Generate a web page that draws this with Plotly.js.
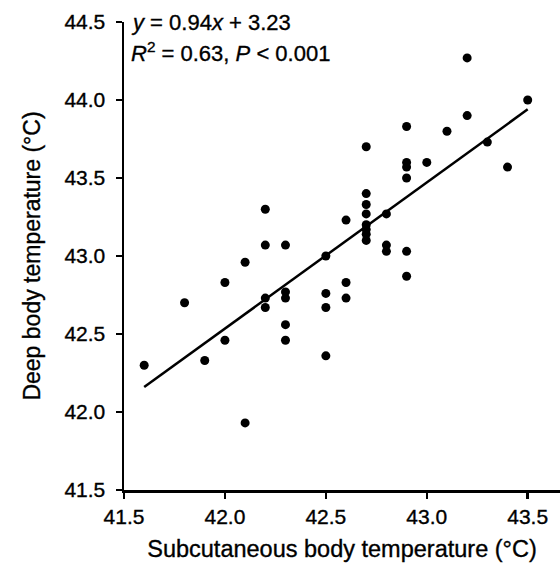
<!DOCTYPE html>
<html>
<head>
<meta charset="utf-8">
<script src="https://cdn.plot.ly/plotly-3.0.1.min.js"></script>
<style>
html,body{margin:0;padding:0;background:#fff;}
#chart{width:560px;height:570px;}
#chart svg text{stroke:#000;stroke-width:0.35px;}
</style>
</head>
<body>
<div id="chart"></div>
<script>
// Subcutaneous body temperature (°C)
const subcutaneous = [
  41.6, 41.8, 41.9, 42.0, 42.0, 42.1, 42.1,
  42.2, 42.2, 42.2, 42.2,
  42.3, 42.3, 42.3, 42.3, 42.3,
  42.5, 42.5, 42.5, 42.5,
  42.6, 42.6, 42.6,
  42.7, 42.7, 42.7, 42.7, 42.7, 42.7, 42.7, 42.7,
  42.8, 42.8, 42.8,
  42.9, 42.9, 42.9, 42.9, 42.9, 42.9,
  43.0, 43.1, 43.2, 43.2, 43.3, 43.4, 43.5
];
// Deep body temperature (°C)
const deep = [
  42.30, 42.70, 42.33, 42.83, 42.46, 42.96, 41.93,
  43.30, 43.07, 42.73, 42.67,
  43.07, 42.77, 42.73, 42.56, 42.46,
  43.00, 42.76, 42.67, 42.36,
  43.23, 42.83, 42.73,
  43.70, 43.40, 43.33, 43.27, 43.20, 43.17, 43.14, 43.10,
  43.27, 43.07, 43.03,
  43.83, 43.60, 43.57, 43.50, 43.03, 42.87,
  43.60, 43.80, 44.27, 43.90, 43.73, 43.57, 44.00
];
// Fitted regression line end points
const fitX = [41.6, 43.5];
const fitY = [42.16, 43.94];
const xTicks = [41.5, 42.0, 42.5, 43.0, 43.5];
const yTicks = [41.5, 42.0, 42.5, 43.0, 43.5, 44.0, 44.5];

const font = "Arial, 'Liberation Sans', sans-serif";
const data = [
  {x: subcutaneous, y: deep, type: 'scatter', mode: 'markers',
   marker: {color: '#000', size: 9}, hoverinfo: 'skip'},
  {x: fitX, y: fitY, type: 'scatter', mode: 'lines',
   line: {color: '#000', width: 2.5}, hoverinfo: 'skip'}
];
const axisCommon = {
  showline: true, linecolor: '#000', linewidth: 2.5,
  ticks: 'outside', ticklen: 6, tickwidth: 2.5, tickcolor: '#000',
  showgrid: false, zeroline: false,
  tickfont: {family: font, size: 21, color: '#000'},
  tickformat: '.1f', tickmode: 'array'
};
const layout = {
  width: 560, height: 570,
  margin: {l: 124, r: 0, t: 22, b: 80},
  paper_bgcolor: '#fff', plot_bgcolor: '#fff',
  showlegend: false,
  xaxis: Object.assign({}, axisCommon, {
    range: [41.5, 43.66], tickvals: xTicks,
    title: {text: 'Subcutaneous body temperature (°C)', font: {family: font, size: 23.5, color: '#000'}, standoff: 14}
  }),
  yaxis: Object.assign({}, axisCommon, {
    range: [41.5, 44.5], tickvals: yTicks, ticklabelstandoff: 6,
    title: {text: 'Deep body temperature (°C)', font: {family: font, size: 23, color: '#000'}, standoff: 18}
  }),
  annotations: [
    {xref: 'paper', yref: 'paper', x: 0.012, y: 1.0, xanchor: 'left', yanchor: 'middle',
     text: '<i>y</i> = 0.94<i>x</i> + 3.23', showarrow: false,
     font: {family: font, size: 22, color: '#000'}},
    {xref: 'paper', yref: 'paper', x: 0.012, y: 0.935, xanchor: 'left', yanchor: 'middle',
     text: '<i>R</i><sup>2</sup> = 0.63, <i>P</i> < 0.001', showarrow: false,
     font: {family: font, size: 22, color: '#000'}}
  ]
};
Plotly.newPlot('chart', data, layout, {displayModeBar: false, staticPlot: true});
</script>
</body>
</html>
